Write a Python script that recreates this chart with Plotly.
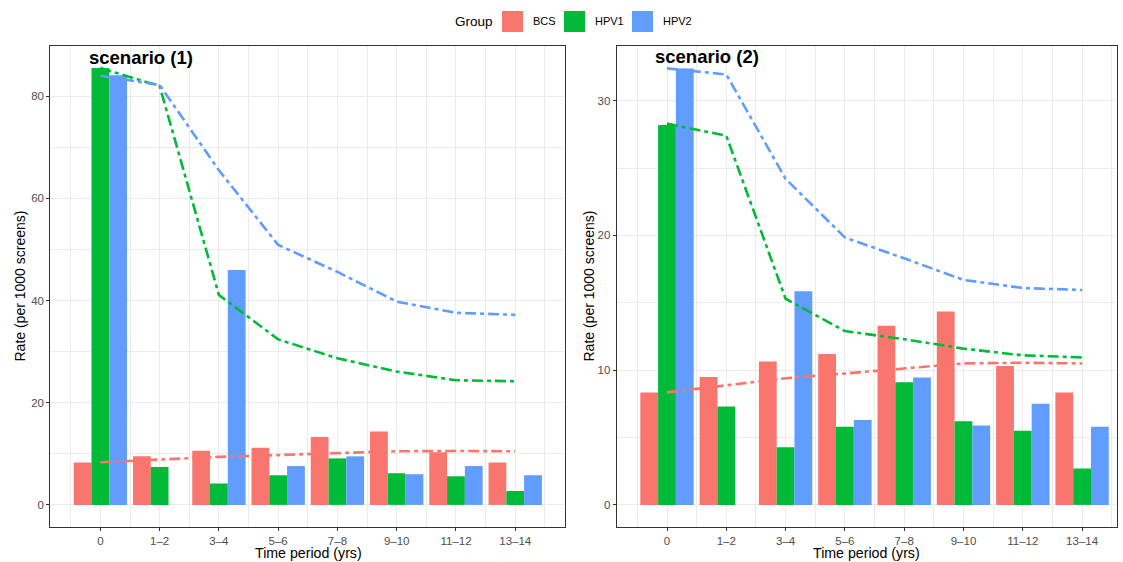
import plotly.graph_objects as go

W, H = 1123, 562

periods = ["0", "1\u20132", "3\u20134", "5\u20136", "7\u20138", "9\u201310", "11\u201312", "13\u201314"]
groups = ["BCS", "HPV1", "HPV2"]
colors = {"BCS": "#F8766D", "HPV1": "#00BA38", "HPV2": "#619CFF"}

# scenario (1) bars
s1_bcs = [8.3, 9.5, 10.6, 11.2, 13.3, 14.35, 10.3, 8.3]
s1_hpv1 = [85.5, 7.4, 4.2, 5.8, 9.1, 6.2, 5.6, 2.7]
s1_hpv2 = [84.1, None, 46.0, 7.6, 9.5, 6.0, 7.6, 5.8]
# scenario (1) lines
s1_bcs_line = [8.35, 8.9, 9.4, 9.75, 10.15, 10.5, 10.55, 10.5]
s1_hpv1_line = [85.5, 82.0, 41.1, 32.4, 28.7, 26.1, 24.4, 24.2]
s1_hpv2_line = [84.0, 82.2, 65.5, 50.9, 45.6, 39.8, 37.6, 37.2]

# scenario (2) bars
s2_bcs = [8.35, 9.5, 10.65, 11.2, 13.3, 14.35, 10.3, 8.35]
s2_hpv1 = [28.2, 7.3, 4.27, 5.8, 9.1, 6.2, 5.5, 2.7]
s2_hpv2 = [32.4, None, 15.85, 6.3, 9.45, 5.9, 7.5, 5.8]
# scenario (2) lines
s2_bcs_line = [8.35, 8.9, 9.4, 9.75, 10.15, 10.5, 10.55, 10.5]
s2_hpv1_line = [28.3, 27.4, 15.3, 12.9, 12.3, 11.6, 11.1, 10.95]
s2_hpv2_line = [32.4, 31.95, 24.2, 19.85, 18.3, 16.7, 16.1, 15.95]

titles = ["scenario (1)", "scenario (2)"]
xpos = list(range(1, len(periods) + 1))

fig = go.Figure()

panels = [
    (s1_bcs, s1_hpv1, s1_hpv2, s1_bcs_line, s1_hpv1_line, s1_hpv2_line),
    (s2_bcs, s2_hpv1, s2_hpv2, s2_bcs_line, s2_hpv1_line, s2_hpv2_line),
]

for i, (b, h1, h2, bl, h1l, h2l) in enumerate(panels):
    xa = "x" if i == 0 else "x2"
    ya = "y" if i == 0 else "y2"
    for g, vals in zip(groups, [b, h1, h2]):
        fig.add_trace(go.Bar(x=xpos, y=vals, name=g, marker=dict(color=colors[g], line=dict(width=0)),
                             xaxis=xa, yaxis=ya, showlegend=False, offsetgroup=g))
    for g, vals in zip(groups, [bl, h1l, h2l]):
        fig.add_trace(go.Scatter(x=xpos, y=vals, mode="lines", xaxis=xa, yaxis=ya, showlegend=False,
                                 line=dict(color=colors[g], width=2.6, dash="11px,4px,4px,4px")))

def px_x(p):
    return p / W

def px_y(p):
    return 1 - p / H

ydom = [px_y(526.7), px_y(46.3)]
dom1 = [px_x(50.3), px_x(565.3)]
dom2 = [px_x(616.7), px_x(1117)]

grid = "#EBEBEB"
FONT = "Liberation Sans, Arial, Helvetica"
axis_common = dict(showline=True, linecolor="#333333", linewidth=1.1, mirror=True,
                   ticks="outside", ticklen=3, tickcolor="#333333", tickwidth=1,
                   tickfont=dict(family=FONT, size=11.5, color="#4D4D4D"),
                   gridcolor=grid, gridwidth=1.1, zeroline=False)

xr1 = [0.155, 8.845]
xr2 = [1 - 50.3 / 59.3, 1 + (1117 - 667) / 59.3]

fig.update_layout(
    width=W, height=H,
    margin=dict(l=0, r=0, t=0, b=0),
    paper_bgcolor="white", plot_bgcolor="white",
    barmode="group", bargap=0.1, bargroupgap=0,
    xaxis=dict(domain=dom1, range=xr1, tickmode="array", tickvals=xpos, ticktext=periods,
               minor=dict(tickvals=[p - 0.5 for p in xpos] + [xpos[-1] + 0.5], showgrid=True,
                          gridcolor=grid, gridwidth=0.6, ticks=""),
               anchor="y", **axis_common),
    yaxis=dict(domain=ydom, range=[-4.27, 89.77], tickmode="array", tickvals=[0, 20, 40, 60, 80],
               minor=dict(tickvals=[10, 30, 50, 70], showgrid=True, gridcolor=grid, gridwidth=0.6, ticks=""),
               anchor="x", **axis_common),
    xaxis2=dict(domain=dom2, range=xr2, tickmode="array", tickvals=xpos, ticktext=periods,
                minor=dict(tickvals=[p - 0.5 for p in xpos] + [xpos[-1] + 0.5], showgrid=True,
                           gridcolor=grid, gridwidth=0.6, ticks=""),
                anchor="y2", **axis_common),
    yaxis2=dict(domain=ydom, range=[-1.62, 34.04], tickmode="array", tickvals=[0, 10, 20, 30],
                minor=dict(tickvals=[5, 15, 25], showgrid=True, gridcolor=grid, gridwidth=0.6, ticks=""),
                anchor="x2", **axis_common),
    font=dict(family=FONT, color="#1A1A1A"),
)

ann = []
def add_ann(**kw):
    kw.setdefault("showarrow", False)
    kw.setdefault("xanchor", "center")
    kw.setdefault("yanchor", "middle")
    ann.append(kw)

# panel titles
add_ann(x=1.68, y=87.6, xref="x", yref="y", text="<b>" + titles[0] + "</b>",
        font=dict(size=18.5, color="black", family=FONT))
add_ann(x=1.68, y=33.27, xref="x2", yref="y2", text="<b>" + titles[1] + "</b>",
        font=dict(size=18.5, color="black", family=FONT))
# axis titles
for cx in [308, 866]:
    add_ann(x=px_x(cx), y=px_y(553), xref="paper", yref="paper", text="Time period (yrs)",
            font=dict(size=14.2, color="black", family=FONT))
for cx in [19, 588]:
    add_ann(x=px_x(cx), y=px_y(286.5), xref="paper", yref="paper", text="Rate (per 1000 screens)",
            textangle=-90, font=dict(size=14, color="black", family=FONT))

# legend (manual)
add_ann(x=px_x(474), y=px_y(21), xref="paper", yref="paper", text="Group",
        font=dict(size=13.5, color="black", family=FONT))
shapes = []
leg_x = [502, 564, 632]
for g, lx in zip(groups, leg_x):
    shapes.append(dict(type="rect", xref="paper", yref="paper", x0=px_x(lx), x1=px_x(lx + 21),
                       y0=px_y(32), y1=px_y(11), fillcolor=colors[g], line=dict(width=0)))
    add_ann(x=px_x(lx + 29), y=px_y(21), xref="paper", yref="paper", text=g, xanchor="left",
            font=dict(size=11, color="black", family=FONT))

fig.update_layout(annotations=ann, shapes=shapes)
fig.write_html("out.html", config={"displayModeBar": False},
               post_script="document.body.style.margin='0px';document.body.style.overflow='hidden';")
